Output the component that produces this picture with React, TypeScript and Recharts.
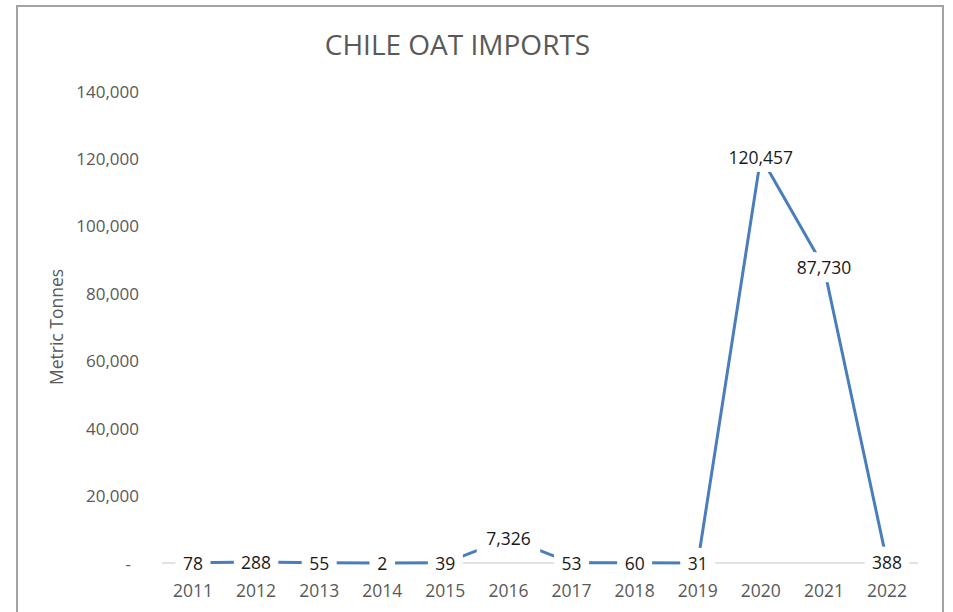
import React from 'react';
import { LineChart, Line, XAxis, YAxis, CartesianGrid, LabelList } from 'recharts';

const YEARS = ['2011', '2012', '2013', '2014', '2015', '2016', '2017', '2018', '2019', '2020', '2021', '2022'];
const IMPORTS = [78, 288, 55, 2, 39, 7326, 53, 60, 31, 120457, 87730, 388];
const Y_TICKS = [0, 20000, 40000, 60000, 80000, 100000, 120000, 140000];

const FONT = '"Open Sans", "Noto Sans", sans-serif';
const LINE_COLOR = '#4a7ebb';

const data = YEARS.map((year, i) => ({ year, value: IMPORTS[i] }));

const fmt = (v: number) => v.toLocaleString('en-US');

const YTick = (props: any) => {
  const { x, y, payload } = props;
  const isZero = payload.value === 0;
  return (
    <text
      x={isZero ? x - 8 : x}
      y={y}
      textAnchor="end"
      dominantBaseline="central"
      fontSize={17}
      fill="#595959"
      fontFamily={FONT}
    >
      {isZero ? '-' : fmt(payload.value)}
    </text>
  );
};

// white box behind each value, like the Excel label fill
const DataLabel = (props: any) => {
  const { x, y, value } = props;
  const text = fmt(Number(value));
  const w = text.length * 9.5 + 16;
  return (
    <g>
      <rect x={x - w / 2} y={y - 15} width={w} height={30} fill="#fff" />
      <text
        x={x}
        y={y}
        textAnchor="middle"
        dominantBaseline="central"
        fontSize={17.5}
        fill="#1a1a1a"
        fontFamily={FONT}
      >
        {text}
      </text>
    </g>
  );
};

const AxisTitle = (props: any) => {
  const { viewBox } = props;
  const cx = viewBox.x + 14;
  const cy = viewBox.y + viewBox.height / 2;
  return (
    <text
      x={cx}
      y={cy}
      transform={`rotate(-90 ${cx} ${cy})`}
      textAnchor="middle"
      dominantBaseline="central"
      fontSize={17.5}
      fill="#595959"
      fontFamily={FONT}
    >
      Metric Tonnes
    </text>
  );
};

export default function App() {
  return (
    <div
      style={{
        position: 'absolute',
        left: 0,
        top: 0,
        width: 953,
        height: 612,
        overflow: 'hidden',
        background: '#fff',
      }}
    >
      <div
        style={{
          position: 'absolute',
          left: 16,
          top: 5,
          width: 928,
          height: 700,
          border: '2px solid #a3a3a3',
          boxSizing: 'border-box',
        }}
      />
      <div
        style={{
          position: 'absolute',
          left: 0,
          width: 915,
          top: 26,
          textAlign: 'center',
          fontFamily: FONT,
          fontSize: 28,
          color: '#595959',
          lineHeight: '36px',
        }}
      >
        CHILE OAT IMPORTS
      </div>
      <div style={{ position: 'absolute', left: 0, top: 0 }}>
        <LineChart
          width={953}
          height={612}
          data={data}
          margin={{ top: 91, right: 35, bottom: 19, left: 42 }}
        >
          <CartesianGrid
            vertical={false}
            horizontalValues={[0]}
            stroke="#d9d9d9"
            strokeWidth={1.5}
          />
          <XAxis
            dataKey="year"
            height={30}
            padding={{ left: 31, right: 31 }}
            axisLine={false}
            tickLine={false}
            tickSize={0}
            tickMargin={22}
            interval={0}
            tick={{ fontSize: 17.5, fill: '#595959', fontFamily: FONT }}
          />
          <YAxis
            width={120}
            domain={[0, 140000]}
            ticks={Y_TICKS}
            axisLine={false}
            tickLine={false}
            tickSize={0}
            tickMargin={23}
            tick={<YTick />}
            label={<AxisTitle />}
          />
          <Line
            type="linear"
            dataKey="value"
            stroke={LINE_COLOR}
            strokeWidth={3}
            dot={false}
            activeDot={false}
            isAnimationActive={false}
          >
            <LabelList dataKey="value" content={<DataLabel />} />
          </Line>
        </LineChart>
      </div>
    </div>
  );
}
